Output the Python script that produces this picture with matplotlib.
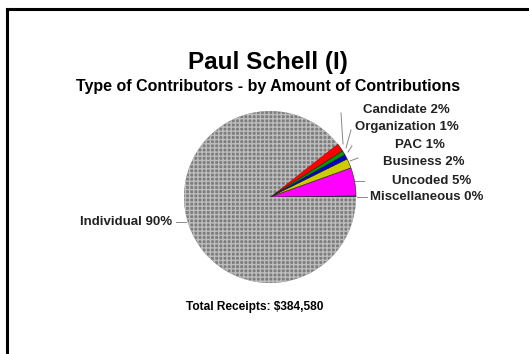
import matplotlib
matplotlib.use("Agg")
import matplotlib.pyplot as plt
from matplotlib.lines import Line2D

plt.rcParams['font.family'] = ['Liberation Sans', 'DejaVu Sans']

categories = ["Miscellaneous", "Uncoded", "Business", "PAC", "Organization", "Candidate", "Individual"]
values = [0.2, 5.3, 1.8, 0.9, 0.8, 1.6, 89.4]
label_texts = ["Miscellaneous 0%", "Uncoded 5%", "Business 2%", "PAC 1%",
               "Organization 1%", "Candidate 2%", "Individual 90%"]
colors = ["#008080", "#ff00ff", "#cccc00", "#0000cc", "#009900", "#ff0000", "#9c9c9c"]
title = "Paul Schell (I)"
subtitle = "Type of Contributors - by Amount of Contributions"
footer = "Total Receipts: $384,580"

W, H = 529, 354
fig = plt.figure(figsize=(W / 100, H / 100), dpi=100)
fig.patch.set_facecolor("white")

def fx(x):
    return x / W

def fy(y):
    return 1 - y / H

# frame (top and left edges visible)
fig.add_artist(Line2D([fx(7), fx(529)], [fy(9), fy(9)], color="black", lw=2.2))
fig.add_artist(Line2D([fx(7), fx(7)], [fy(9), fy(354)], color="black", lw=2.2))

cx, cy, r = 270, 197, 86
ax = fig.add_axes([fx(cx - r), fy(cy + r), 2 * r / W, 2 * r / H])
wedges, _ = ax.pie(values, colors=colors, startangle=0, counterclock=True,
                   radius=1.0, wedgeprops=dict(linewidth=0.4, edgecolor="#202020"))
ind = wedges[-1]
ind.set_facecolor("#7c7c7c")
ind.set_edgecolor("#bdbdbd")
ind.set_hatch("++++")
ind.set_linewidth(0)
ax.set_xlim(-1, 1)
ax.set_ylim(-1, 1)
ax.set_aspect("equal")
ax.axis("off")

fig.text(fx(268), fy(62), title, ha="center", va="center", fontsize=17.5, fontweight="bold")
fig.text(fx(268), fy(87), subtitle, ha="center", va="center", fontsize=11.5, fontweight="bold")
fig.text(fx(255), fy(307), footer, ha="center", va="center", fontsize=8.6, fontweight="bold")

label_pos = [(370, 197), (392, 181), (383, 162), (395, 145), (355, 127), (363, 110), (80, 222)]
for txt, (x, y) in zip(label_texts, label_pos):
    fig.text(fx(x), fy(y), txt, ha="left", va="center", fontsize=9.5, fontweight="bold",
             color="#222222")

leaders = [
    [(357, 197), (367, 197)],
    [(355, 181), (364, 181)],
    [(350, 161), (358, 158)],
    [(348, 152), (352, 146)],
    [(346, 148), (351, 130)],
    [(343, 144), (341, 113)],
    [(176, 222), (186, 222)],
]
for seg in leaders:
    (x0, y0), (x1, y1) = seg
    fig.add_artist(Line2D([fx(x0), fx(x1)], [fy(y0), fy(y1)], color="#888888", lw=0.7))

fig.savefig("out.png", dpi=100)
